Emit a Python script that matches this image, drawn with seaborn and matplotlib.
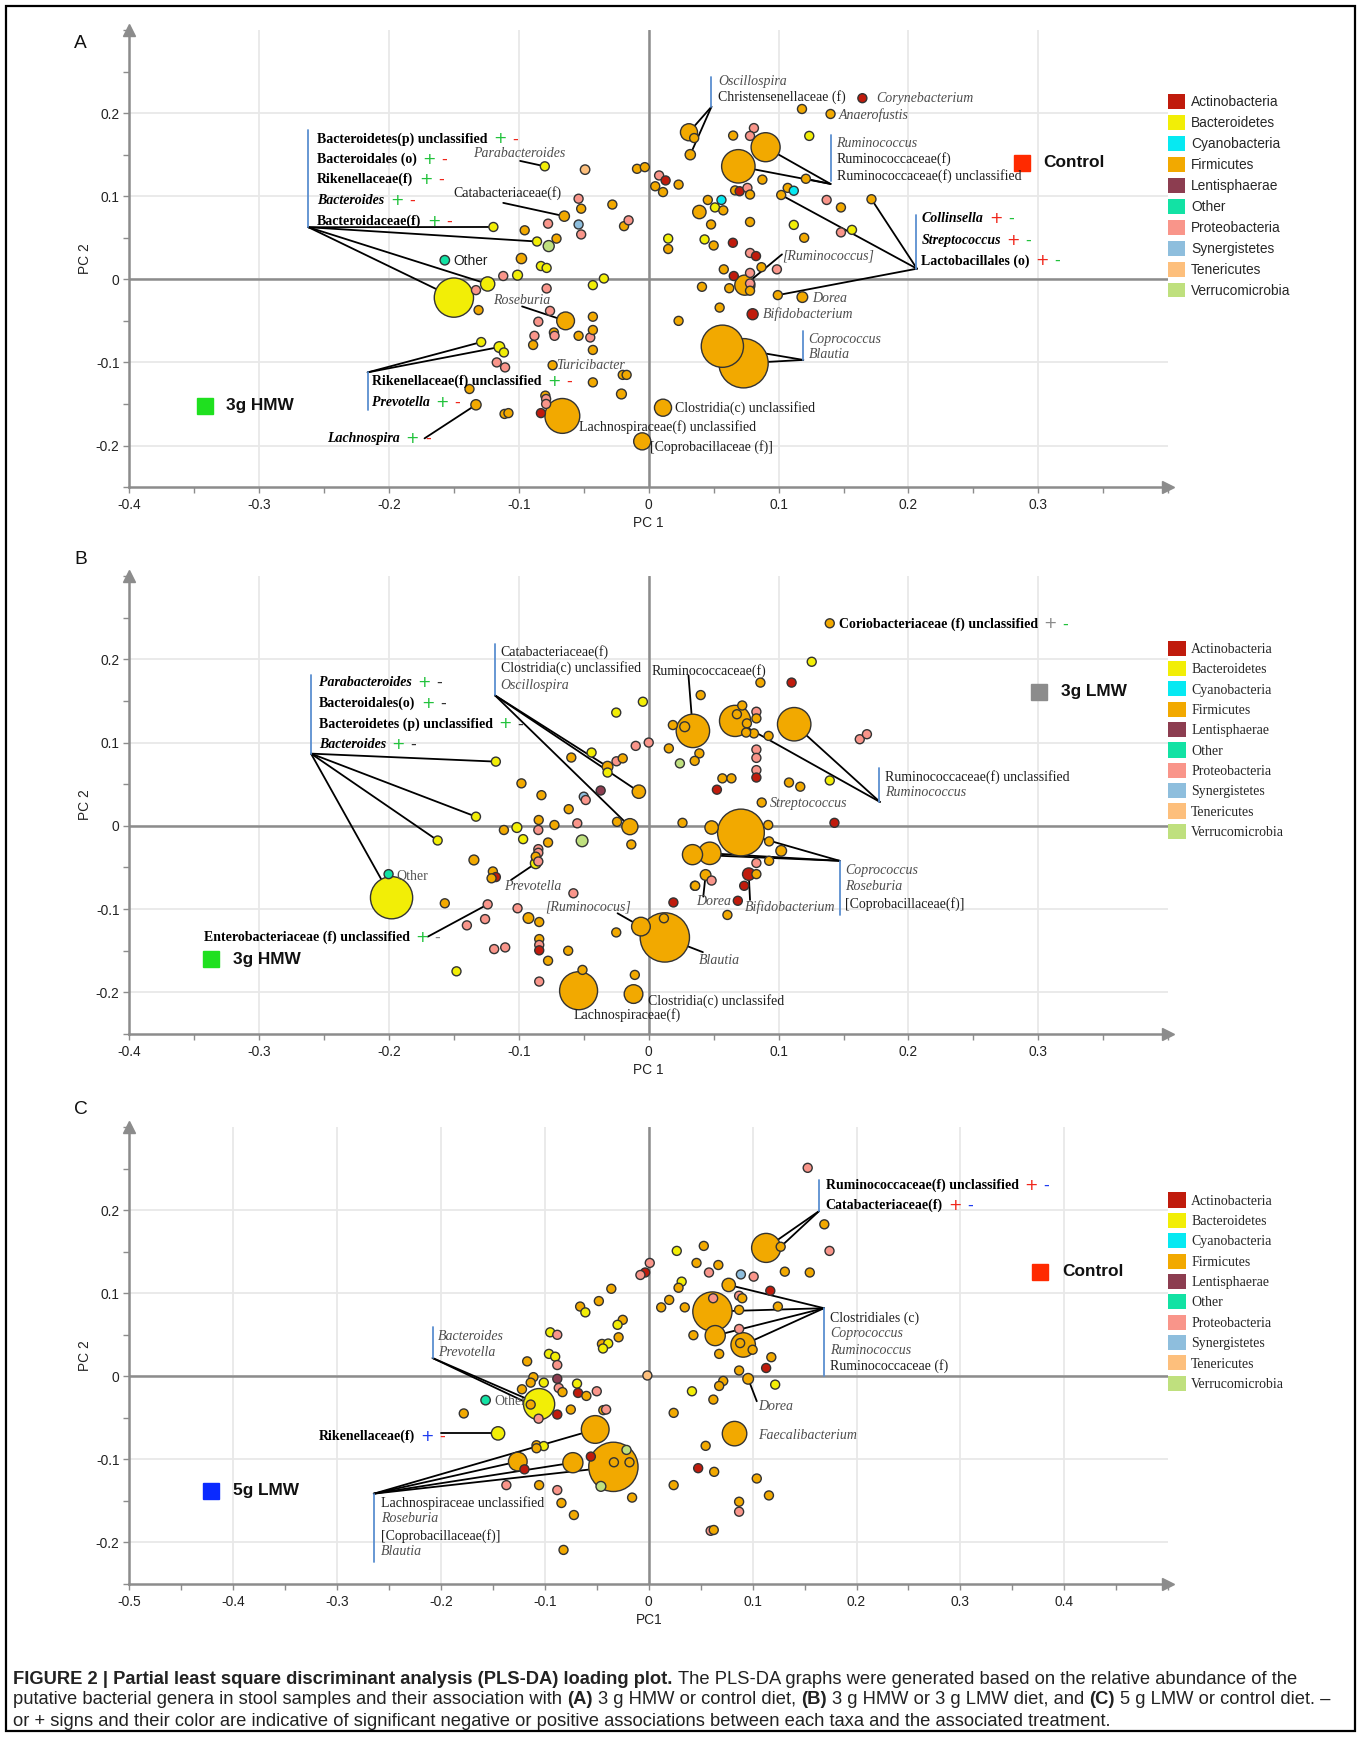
import numpy as np
import pandas as pd
import matplotlib
matplotlib.use('Agg')
import matplotlib.pyplot as plt
from matplotlib import font_manager
from matplotlib.patches import Patch, Rectangle
from matplotlib.ticker import MultipleLocator, FixedLocator, FuncFormatter
import seaborn as sns

sns.set_theme(style='white')

_installed = {f.name for f in font_manager.fontManager.ttflist}
NARROW = 'Liberation Sans Narrow' in _installed
SANS = ['Liberation Sans Narrow', 'Liberation Sans', 'DejaVu Sans'] if NARROW else ['Liberation Sans', 'DejaVu Sans']
SQ = 1.0 if NARROW else 0.86      # sans text is condensed in the reference
SERIF = ['Liberation Serif', 'DejaVu Serif']
plt.rcParams['font.family'] = SANS

# ---------------------------------------------------------------- data
PHYLA = ['Actinobacteria', 'Bacteroidetes', 'Cyanobacteria', 'Firmicutes', 'Lentisphaerae',
         'Other', 'Proteobacteria', 'Synergistetes', 'Tenericutes', 'Verrucomicrobia']
PHYLA_CODE = dict(A='Actinobacteria', B='Bacteroidetes', C='Cyanobacteria', F='Firmicutes',
                  L='Lentisphaerae', O='Other', P='Proteobacteria', S='Synergistetes',
                  T='Tenericutes', V='Verrucomicrobia')
PHYLA_COLORS = ['#c01b0c', '#f2ee06', '#06e9f2', '#f2a900', '#8c3d50',
                '#12e2a4', '#f9958a', '#8ebedd', '#fdbf7c', '#bfe07e']

# panel A : 3 g HMW vs control
pc1_a = [
    -0.080, -0.049, -0.009, -0.003, 0.008, 0.013, 0.005, 0.011, 0.023, -0.054,
    -0.052, -0.028, -0.065, -0.0775, -0.054, -0.052, -0.019, -0.0155, -0.1196, -0.0955,
    -0.086, -0.071, -0.077, 0.015, 0.015, -0.157, -0.098, -0.083, -0.0786, -0.112,
    -0.101, -0.124, -0.0345, -0.043, -0.150, -0.133, -0.131, -0.0786, -0.064, -0.076,
    -0.085, -0.073, -0.0725, -0.088, -0.089, -0.054, -0.045, -0.043, -0.043, -0.043,
    0.023, -0.129, -0.115, -0.1115, -0.117, -0.1106, -0.074, -0.020, -0.017, -0.043,
    -0.138, -0.133, -0.0796, -0.079, -0.079, -0.021, -0.111, -0.108, -0.083, -0.0665,
    0.011, -0.005, 0.031, 0.035, 0.032, 0.1645, 0.118, 0.140, 0.081, 0.065,
    0.078, 0.1236, 0.090, 0.069, 0.121, 0.0875, 0.0665, 0.070, 0.076, 0.078,
    0.107, 0.1117, 0.102, 0.0455, 0.056, 0.051, 0.0574, 0.039, 0.137, 0.148,
    0.1715, 0.048, 0.078, 0.1117, 0.043, 0.050, 0.0648, 0.1197, 0.148, 0.1565,
    0.078, 0.0826, 0.0578, 0.0868, 0.0987, 0.0655, 0.078, 0.074, 0.078, 0.078,
    0.041, 0.062, 0.0994, 0.1183, 0.0546, 0.080, 0.0567, 0.073]
pc2_a = [
    0.136, 0.132, 0.133, 0.135, 0.125, 0.119, 0.112, 0.105, 0.114, 0.097,
    0.085, 0.090, 0.076, 0.067, 0.066, 0.054, 0.064, 0.071, 0.063, 0.059,
    0.0455, 0.049, 0.040, 0.049, 0.0365, 0.023, 0.025, 0.016, 0.0137, 0.004,
    0.005, -0.0056, 0.001, -0.007, -0.022, -0.013, -0.037, -0.011, -0.050, -0.038,
    -0.051, -0.064, -0.068, -0.068, -0.079, -0.068, -0.070, -0.045, -0.061, -0.085,
    -0.050, -0.0755, -0.0815, -0.088, -0.100, -0.106, -0.1034, -0.115, -0.115, -0.124,
    -0.132, -0.151, -0.140, -0.144, -0.150, -0.138, -0.162, -0.161, -0.161, -0.1644,
    -0.1545, -0.195, 0.177, 0.170, 0.150, 0.218, 0.205, 0.199, 0.182, 0.173,
    0.1726, 0.1726, 0.159, 0.136, 0.121, 0.120, 0.107, 0.106, 0.110, 0.102,
    0.110, 0.1066, 0.1015, 0.0955, 0.0955, 0.0865, 0.083, 0.081, 0.0955, 0.0865,
    0.0964, 0.066, 0.069, 0.0655, 0.048, 0.0407, 0.044, 0.050, 0.0565, 0.0595,
    0.0317, 0.028, 0.012, 0.0146, 0.012, 0.004, 0.0077, -0.007, -0.005, -0.0137,
    -0.009, -0.0107, -0.019, -0.0214, -0.034, -0.042, -0.0805, -0.101]
phylum_a = ("BTFFPAFFFP FFFPSPFPBF BFVBFOFBBP BBBBBPFPFP PFPPFFPFFF FBBBPPFFFF "
            "FFFPPFFFAF FFFFFAFFPF PBFFFFFAPF FCFFCBFFPF FFFBBFAFPB PAFFPAPFPF FFFFFAFF")
abund_a = [
    1, 1.1, 1, 1, 1, 1, 1, 1, 1, 1,
    1, 1, 1.3, 1, 1, 1, 1, 1, 1, 1,
    1, 1, 1.5, 1, 1, 1.1, 1.3, 1, 0.9, 1,
    1.2, 2.5, 1, 1, 19, 1, 1, 1, 3.9, 1,
    1, 1, 1, 1, 1, 1, 1, 1, 1, 1,
    1, 1, 1.4, 1, 1, 1, 1, 1, 1, 1,
    1, 1.3, 1, 1, 1, 1.2, 1, 1, 1, 15,
    3.6, 3.6, 3.6, 1, 1.3, 0.8, 1, 1, 1, 1,
    1, 1, 10.4, 13.8, 1, 1, 1, 1, 1, 1,
    1, 1, 1, 1, 1, 1, 1, 2.2, 1, 1,
    1, 1, 1, 1, 1, 1, 1, 1, 1, 1,
    1, 1, 1, 1, 1, 1, 1, 5.0, 1, 1,
    1, 1, 1, 1.4, 1, 1.5, 22, 30]

# panel B : 3 g HMW vs 3 g LMW
pc1_b = [
    -0.1177, -0.133, -0.1625, -0.198, -0.2003, -0.0045, -0.025, -0.044, -0.0596, -0.0317,
    -0.0317, -0.0248, -0.020, -0.010, 0.000, -0.098, -0.0826, -0.050, -0.0485, -0.037,
    -0.0616, -0.0076, -0.0145, -0.0244, -0.055, -0.0726, -0.0847, -0.085, -0.1015, -0.1115,
    -0.0967, -0.0775, -0.0513, -0.0134, -0.085, -0.085, -0.087, -0.087, -0.085, -0.1346,
    -0.120, -0.1177, -0.121, -0.157, -0.124, -0.126, -0.140, -0.101, -0.0926, -0.0843,
    -0.058, -0.119, -0.1105, -0.148, -0.0843, -0.0843, -0.0843, -0.0775, -0.062, -0.051,
    -0.0843, -0.054, -0.0117, -0.0107, -0.025, -0.006, 0.0124, 0.0117, 0.019, 0.0355,
    0.026, 0.024, 0.0155, 0.0186, 0.040, 0.1394, 0.1255, 0.086, 0.110, 0.034,
    0.0277, 0.0665, 0.0679, 0.072, 0.0756, 0.0829, 0.0829, 0.081, 0.0923, 0.075,
    0.112, 0.1625, 0.168, 0.039, 0.0354, 0.0829, 0.0829, 0.0829, 0.0829, 0.0567,
    0.0637, 0.0525, 0.108, 0.1167, 0.1394, 0.087, 0.0484, 0.071, 0.092, 0.143,
    0.0927, 0.102, 0.0337, 0.047, 0.0829, 0.0927, 0.0438, 0.0484, 0.0358, 0.077,
    0.0829, 0.0735, 0.0686, 0.0606]
pc2_b = [
    0.0771, 0.011, -0.0176, -0.0863, -0.058, 0.149, 0.136, 0.088, 0.082, 0.071,
    0.064, 0.0775, 0.081, 0.096, 0.100, 0.051, 0.0368, 0.035, 0.031, 0.0424,
    0.020, 0.041, -0.001, 0.0048, 0.003, 0.001, 0.007, -0.005, -0.002, -0.005,
    -0.016, -0.020, -0.018, -0.0224, -0.028, -0.0324, -0.037, -0.045, -0.0428, -0.041,
    -0.0548, -0.0615, -0.063, -0.093, -0.0943, -0.112, -0.1195, -0.099, -0.1107, -0.1155,
    -0.081, -0.148, -0.146, -0.1747, -0.136, -0.143, -0.1495, -0.162, -0.150, -0.173,
    -0.187, -0.198, -0.202, -0.179, -0.128, -0.121, -0.134, -0.111, -0.092, -0.072,
    0.0036, 0.075, 0.093, 0.121, 0.157, 0.2432, 0.197, 0.172, 0.172, 0.114,
    0.119, 0.126, 0.134, 0.1445, 0.123, 0.137, 0.129, 0.111, 0.108, 0.112,
    0.122, 0.104, 0.110, 0.087, 0.078, 0.0916, 0.0816, 0.0669, 0.058, 0.057,
    0.057, 0.0434, 0.052, 0.047, 0.0545, 0.028, -0.002, -0.008, 0.001, 0.0036,
    -0.0187, -0.030, -0.0346, -0.033, -0.0446, -0.042, -0.059, -0.0657, -0.072, -0.058,
    -0.058, -0.072, -0.090, -0.107]
phylum_b = ("BBBBOBBBFF BPFPPFFSPL FFFFPFFPBF BFVFPPFBPF FAFFPPPPFF PPPBFPAFFF "
            "PFFFFFFFAF FVFFFFBFAF FFFFFPFFFF FPPFFPPPAF FAFFBFFFFA FFFFPFFPFA FAAF")
abund_b = [
    1, 1, 1, 22, 1, 1, 1, 1, 1, 1.4,
    1, 1, 1, 1, 1, 1, 1, 1, 1, 1,
    1, 2.2, 3.2, 1, 1, 1, 1, 1, 1.2, 1,
    1, 1, 1.7, 1, 1, 1, 1, 1.4, 1, 1.2,
    1, 1, 1, 1, 1, 1, 1, 1, 1.4, 1,
    1, 1, 1, 1, 1, 1, 1, 1, 1, 1,
    1, 17.8, 4.3, 1, 1, 4.3, 31, 1, 1, 1,
    1, 1, 1, 1, 1, 0.8, 1, 1, 1, 13.8,
    1.2, 12, 1, 1, 1, 1, 1, 1, 1, 1,
    13.8, 1, 1, 1, 1, 1, 1, 1, 1, 1,
    1, 1, 1, 1, 1, 1, 2.2, 27, 1, 1,
    1, 1.4, 5.0, 6.2, 1, 1, 1.4, 1, 1, 1.9,
    1, 1, 1, 1]

# panel C : 5 g LMW vs control
pc1_c = [
    0.027, 0.046, 0.001, -0.0034, -0.008, 0.0317, 0.0287, -0.036, 0.0197, 0.012,
    0.0347, -0.048, -0.066, -0.061, -0.025, -0.030, -0.029, -0.045, -0.039, -0.044,
    0.043, -0.0948, -0.088, -0.096, -0.090, -0.088, -0.117, -0.111, -0.1136, -0.101,
    -0.088, -0.0866, -0.083, -0.122, -0.069, -0.068, -0.060, -0.050, -0.0013, 0.0416,
    -0.157, -0.1136, -0.1055, -0.106, -0.088, -0.075, -0.178, -0.0437, -0.041, 0.024,
    -0.145, -0.0515, -0.108, -0.101, -0.108, -0.126, -0.1196, -0.073, -0.034, -0.0214,
    -0.0335, -0.0185, -0.046, -0.0557, -0.137, -0.1055, -0.088, -0.084, -0.072, -0.016,
    0.024, 0.0476, -0.082, 0.153, 0.169, 0.174, 0.113, 0.127, 0.053, 0.058,
    0.067, 0.0887, 0.101, 0.131, 0.155, 0.077, 0.117, 0.087, 0.090, 0.0613,
    0.062, 0.087, 0.1243, 0.087, 0.064, 0.0909, 0.088, 0.0678, 0.100, 0.118,
    0.113, 0.087, 0.0957, 0.0717, 0.0678, 0.1217, 0.0622, 0.0826, 0.0548, 0.063,
    0.104, 0.1157, 0.087, 0.087, 0.0596, 0.0626]
pc2_c = [
    0.151, 0.1365, 0.1365, 0.125, 0.122, 0.114, 0.1066, 0.1054, 0.092, 0.083,
    0.083, 0.0906, 0.084, 0.077, 0.068, 0.062, 0.047, 0.039, 0.0395, 0.0335,
    0.0495, 0.053, 0.050, 0.027, 0.0236, 0.0136, 0.018, -0.001, -0.0076, -0.0076,
    -0.003, -0.014, -0.019, -0.0156, -0.0088, -0.020, -0.0236, -0.018, 0.001, -0.018,
    -0.0287, -0.034, -0.0335, -0.051, -0.046, -0.040, -0.0447, -0.0407, -0.040, -0.044,
    -0.0687, -0.064, -0.083, -0.084, -0.0866, -0.1026, -0.112, -0.104, -0.109, -0.0886,
    -0.1035, -0.1035, -0.1325, -0.0966, -0.131, -0.131, -0.137, -0.1525, -0.167, -0.146,
    -0.131, -0.1106, -0.209, 0.251, 0.183, 0.151, 0.1546, 0.156, 0.157, 0.125,
    0.134, 0.1227, 0.120, 0.126, 0.125, 0.110, 0.103, 0.097, 0.094, 0.078,
    0.094, 0.080, 0.084, 0.057, 0.049, 0.0378, 0.040, 0.027, 0.032, 0.023,
    0.010, 0.007, -0.003, -0.0056, -0.0116, -0.010, -0.028, -0.069, -0.0837, -0.115,
    -0.123, -0.1434, -0.151, -0.163, -0.186, -0.185]
phylum_c = ("BFPAPBFFFF FFFBFBFFBB FBPBBPFFFB LPFFBAFPTB OFBPAFFFPF BFFBFFAFFV "
            "FFVAPFPFFF FAFPFPFFFP FSPFFFAPFF PFFPFFFFFF AFFFFBFFFF FFFPPF")
abund_c = [
    1, 1, 1, 1, 1, 1, 1, 1, 1, 1,
    1, 1, 1, 1, 1, 1, 1, 1, 1, 1,
    1, 1, 1, 1, 1, 1, 1, 1, 1, 1,
    1, 1, 1, 1, 1, 1, 1, 1, 1, 1,
    1.1, 1, 12, 1, 1, 1, 1, 1, 1, 1,
    2.2, 9.5, 1, 1, 1, 4.3, 1, 5.0, 31, 1,
    1, 1, 1.2, 1, 1, 1, 1, 1, 1, 1,
    1, 1, 1, 1, 1, 1, 10.4, 1, 1, 1,
    1, 1, 1, 1, 1, 2.2, 1, 1, 1, 19,
    1, 1, 1, 1, 5.0, 7.4, 1, 1, 1, 1,
    1, 1, 1.4, 1, 1, 1, 1, 7.4, 1, 1,
    1, 1, 1, 1, 1, 1]

# ---------------------------------------------------------------- styles
GREEN, RED, BLUE, GREY = '#22c23c', '#f0261b', '#1f3cf0', '#8a8a8a'
GR = [('+', GREEN), ('-', RED)]
RG = [('+', RED), ('-', GREEN)]
RB = [('+', RED), ('-', BLUE)]
GK = [('+', GREEN), ('-', '#333333')]
AXIS_GREY = '#8c8c8c'
TICK_FS = 11.5 * SQ
LEG_FS = 11.5 * SQ
LAB_FS = 10.0
STYLE = {'b': dict(weight='bold', color='black'),
         'bi': dict(weight='bold', style='italic', color='black'),
         'i': dict(style='italic', color='#4d4d4d'),
         'r': dict(color='#1e1e1e')}


def panel_frame(pc1, pc2, codes, abund):
    codes = codes.replace(' ', '')
    assert len(pc1) == len(pc2) == len(codes) == len(abund), (len(pc1), len(pc2), len(codes), len(abund))
    df = pd.DataFrame({'pc1': pc1, 'pc2': pc2,
                       'phylum': [PHYLA_CODE[c] for c in codes], 'abund': abund})
    # big bubbles underneath, small ones on top
    return df.sort_values('abund', ascending=False, kind='stable')


def setup_axes(ax, xlim, xticks, xlabel):
    ax.set_xlim(*xlim)
    ax.set_ylim(-0.25, 0.3)
    ax.xaxis.set_major_locator(FixedLocator(xticks))
    ax.xaxis.set_minor_locator(MultipleLocator(0.05))
    ax.yaxis.set_major_locator(FixedLocator([-0.2, -0.1, 0, 0.1, 0.2]))
    ax.yaxis.set_minor_locator(MultipleLocator(0.05))
    fmt = FuncFormatter(lambda v, p: '0' if abs(v) < 1e-9 else f'{v:.1f}')
    ax.xaxis.set_major_formatter(fmt)
    ax.yaxis.set_major_formatter(fmt)
    ax.tick_params(which='both', direction='out', length=4, width=1, color=AXIS_GREY,
                   labelsize=TICK_FS, labelcolor='#222222', bottom=True, left=True)
    ax.tick_params(axis='x', pad=4)
    ax.tick_params(axis='y', pad=3)
    ax.grid(True, which='major', color='#e8e8e8', lw=1.3, zorder=0)
    ax.set_axisbelow(True)
    for s in ('top', 'right'):
        ax.spines[s].set_visible(False)
    for s in ('left', 'bottom'):
        ax.spines[s].set_color(AXIS_GREY)
        ax.spines[s].set_linewidth(1.8)
    ax.axhline(0, color=AXIS_GREY, lw=1.8, zorder=1)
    ax.axvline(0, color=AXIS_GREY, lw=1.8, zorder=1)
    ax.plot([0], [1], marker='^', ms=9, color=AXIS_GREY, transform=ax.transAxes, clip_on=False)
    ax.plot([1], [0], marker='>', ms=9, color=AXIS_GREY, transform=ax.transAxes, clip_on=False)
    ax.set_xlabel(xlabel, fontsize=TICK_FS, color='#222222', labelpad=3)
    ax.set_ylabel('PC 2', fontsize=TICK_FS, color='#222222', labelpad=3)


def draw_bubbles(ax, df):
    sns.scatterplot(data=df, x='pc1', y='pc2', hue='phylum', hue_order=PHYLA,
                    palette=dict(zip(PHYLA, PHYLA_COLORS)), size='abund',
                    sizes=(42, 42 * 30), size_norm=(1, 30), edgecolor='#333333',
                    linewidth=1.0, legend=False, ax=ax, zorder=3)


def phylum_legend(ax, serif, top):
    handles = [Patch(facecolor=c, edgecolor='none') for c in PHYLA_COLORS]
    if serif:
        prop, spacing = dict(family=SERIF, size=LAB_FS), 0.37
    else:
        prop, spacing = dict(family=SANS, size=LEG_FS), 0.43
    ax.legend(handles, PHYLA, loc='upper left', bbox_to_anchor=(1.0, top), frameon=False,
              prop=prop, handlelength=1.25, handleheight=1.3, handletextpad=0.4,
              labelspacing=spacing, borderaxespad=0, borderpad=0)


def label(ax, x, y, text, kind='r', signs=(), ha='left', color=None, family=None, size=LAB_FS):
    kw = dict(family=family or SERIF, fontsize=size, va='center', ha=ha, zorder=6)
    kw.update(STYLE[kind])
    if color:
        kw['color'] = color
    prev = ax.text(x, y, text, **kw)
    for ch, col in signs:
        prev = ax.annotate(ch, xy=(1, 0.5), xycoords=prev, xytext=(4, 0),
                           textcoords='offset points', va='center', ha='left', color=col,
                           fontsize=size + 1.5, family=['DejaVu Sans'], zorder=6)


def leaders(ax, anchor, idx, pc1, pc2):
    for i in idx:
        ax.plot([anchor[0], pc1[i]], [anchor[1], pc2[i]], color='black', lw=1.3, zorder=2.5)


def block(ax, xb, ytop, ybot, xt, rows, anchor, idx, pc1, pc2):
    ax.plot([xb, xb], [ytop, ybot], color='#5b8fd0', lw=1.3, zorder=4)
    for y, text, kind, signs in rows:
        label(ax, xt, y, text, kind, signs)
    leaders(ax, anchor, idx, pc1, pc2)


def treatment_key(ax, fx, fy, text, color):
    ax.plot([fx], [fy], marker='s', ms=12, color=color, transform=ax.transAxes, clip_on=False)
    ax.text(fx + 0.021, fy, text, transform=ax.transAxes, fontsize=14.4 * SQ, weight='bold',
            va='center', ha='left', color='#111111', family=SANS)


# ---------------------------------------------------------------- figure
fig = plt.figure(figsize=(13.6, 17.37), dpi=100)
base = fig.add_axes([0, 0, 1, 1])
base.axis('off')
base.set_xlim(0, 1)
base.set_ylim(0, 1)
base.add_patch(Rectangle((0.0044, 0.0035), 0.9920, 0.9931, fill=False, lw=1.6, ec='black'))

ax_a = fig.add_axes([0.095, 0.7196, 0.764, 0.2631])
ax_b = fig.add_axes([0.095, 0.4047, 0.764, 0.2637])
ax_c = fig.add_axes([0.095, 0.0881, 0.764, 0.2630])

for letter, yy in (('A', 44), ('B', 560), ('C', 1110)):
    base.text(74 / 1360, 1 - yy / 1737, letter, fontsize=16 * SQ, va='center', ha='left',
              color='#111111', family=SANS)

# ---- panel A
setup_axes(ax_a, (-0.4, 0.4), [-0.4, -0.3, -0.2, -0.1, 0, 0.1, 0.2, 0.3], 'PC 1')
draw_bubbles(ax_a, panel_frame(pc1_a, pc2_a, phylum_a, abund_a))
phylum_legend(ax_a, serif=False, top=0.861)
block(ax_a, -0.262, 0.180, 0.0627, -0.2553,
      [(0.169, 'Bacteroidetes(p) unclassified', 'b', GR),
       (0.144, 'Bacteroidales (o)', 'b', GR),
       (0.120, 'Rikenellaceae(f)', 'b', GR),
       (0.095, 'Bacteroides', 'bi', GR),
       (0.070, 'Bacteroidaceae(f)', 'b', GR)],
      (-0.262, 0.0627), [18, 20, 31, 34], pc1_a, pc2_a)
block(ax_a, -0.2164, -0.112, -0.1567, -0.213,
      [(-0.1227, 'Rikenellaceae(f) unclassified', 'b', GR),
       (-0.148, 'Prevotella', 'bi', GR)],
      (-0.2164, -0.112), [51, 52], pc1_a, pc2_a)
label(ax_a, -0.2474, -0.1914, 'Lachnospira', 'bi', GR)
leaders(ax_a, (-0.1726, -0.1914), [61], pc1_a, pc2_a)
label(ax_a, -0.100, 0.151, 'Parabacteroides', 'i', ha='center')
leaders(ax_a, (-0.099, 0.1425), [0], pc1_a, pc2_a)
label(ax_a, -0.109, 0.104, 'Catabacteriaceae(f)', 'r', ha='center')
leaders(ax_a, (-0.112, 0.092), [12], pc1_a, pc2_a)
label(ax_a, -0.1505, 0.022, 'Other', 'r', family=SANS, size=TICK_FS)
label(ax_a, -0.098, -0.025, 'Roseburia', 'i', ha='center')
leaders(ax_a, (-0.0975, -0.0326), [38], pc1_a, pc2_a)
label(ax_a, -0.0717, -0.104, 'Turicibacter', 'i')
label(ax_a, -0.0534, -0.178, 'Lachnospiraceae(f) unclassified', 'r')
label(ax_a, 0.0203, -0.155, 'Clostridia(c) unclassified', 'r')
label(ax_a, 0.001, -0.202, '[Coprobacillaceae (f)]', 'r')
block(ax_a, 0.0483, 0.244, 0.2077, 0.0532,
      [(0.2377, 'Oscillospira', 'i', ()),
       (0.219, 'Christensenellaceae (f)', 'r', ())],
      (0.0483, 0.2077), [72, 74], pc1_a, pc2_a)
label(ax_a, 0.175, 0.218, 'Corynebacterium', 'i')
label(ax_a, 0.1463, 0.198, 'Anaerofustis', 'i')
block(ax_a, 0.140, 0.1734, 0.1178, 0.1446,
      [(0.1636, 'Ruminococcus', 'i', ()),
       (0.145, 'Ruminococcaceae(f)', 'r', ()),
       (0.124, 'Ruminococcaceae(f) unclassified', 'r', ())],
      (0.140, 0.1148), [82, 83, 84], pc1_a, pc2_a)
block(ax_a, 0.2058, 0.078, 0.012, 0.210,
      [(0.073, 'Collinsella', 'bi', RG),
       (0.047, 'Streptococcus', 'bi', RG),
       (0.0223, 'Lactobacillales (o)', 'b', RG)],
      (0.2065, 0.0128), [92, 100, 122], pc1_a, pc2_a)
label(ax_a, 0.1026, 0.028, '[Ruminococcus]', 'i')
leaders(ax_a, (0.1026, 0.030), [117], pc1_a, pc2_a)
label(ax_a, 0.126, -0.0227, 'Dorea', 'i')
label(ax_a, 0.088, -0.042, 'Bifidobacterium', 'i')
block(ax_a, 0.119, -0.062, -0.097, 0.123,
      [(-0.072, 'Coprococcus', 'i', ()),
       (-0.091, 'Blautia', 'i', ())],
      (0.119, -0.097), [126, 127], pc1_a, pc2_a)
treatment_key(ax_a, 0.0725, 0.1775, '3g HMW', '#1fe01f')
treatment_key(ax_a, 0.859, 0.7096, 'Control', '#ff2a00')

# ---- panel B
setup_axes(ax_b, (-0.4, 0.4), [-0.4, -0.3, -0.2, -0.1, 0, 0.1, 0.2, 0.3], 'PC 1')
draw_bubbles(ax_b, panel_frame(pc1_b, pc2_b, phylum_b, abund_b))
phylum_legend(ax_b, serif=True, top=0.859)
block(ax_b, -0.260, 0.1815, 0.0867, -0.254,
      [(0.172, 'Parabacteroides', 'bi', GK),
       (0.1467, 'Bacteroidales(o)', 'b', GK),
       (0.1223, 'Bacteroidetes (p) unclassified', 'b', GK),
       (0.0975, 'Bacteroides', 'bi', GK)],
      (-0.260, 0.0867), [0, 1, 2, 3], pc1_b, pc2_b)
block(ax_b, -0.1184, 0.2186, 0.1567, -0.114,
      [(0.2086, 'Catabacteriaceae(f)', 'r', ()),
       (0.190, 'Clostridia(c) unclassified', 'r', ()),
       (0.169, 'Oscillospira', 'i', ())],
      (-0.1184, 0.1567), [9, 21, 22], pc1_b, pc2_b)
label(ax_b, -0.194, -0.061, 'Other', 'r', color='#555555')
label(ax_b, -0.089, -0.073, 'Prevotella', 'i', ha='center')
leaders(ax_b, (-0.106, -0.065), [37], pc1_b, pc2_b)
label(ax_b, -0.3425, -0.134, 'Enterobacteriaceae (f) unclassified', 'b', [('+', GREEN), ('-', GREY)])
leaders(ax_b, (-0.170, -0.133), [44], pc1_b, pc2_b)
label(ax_b, -0.0465, -0.097, '[Ruminococus]', 'i', ha='center')
leaders(ax_b, (-0.024, -0.105), [65], pc1_b, pc2_b)
label(ax_b, -0.0165, -0.227, 'Lachnospiraceae(f)', 'r', ha='center')
label(ax_b, -0.0003, -0.210, 'Clostridia(c) unclassifed', 'r')
label(ax_b, 0.0024, 0.1855, 'Ruminococcaceae(f)', 'r')
leaders(ax_b, (0.0306, 0.1807), [79], pc1_b, pc2_b)
label(ax_b, 0.1464, 0.2424, 'Coriobacteriaceae (f) unclassified', 'b', [('+', GREY), ('-', GREEN)])
block(ax_b, 0.177, 0.0693, 0.0287, 0.1817,
      [(0.059, 'Ruminococcaceae(f) unclassified', 'r', ()),
       (0.040, 'Ruminococcus', 'i', ())],
      (0.178, 0.0287), [81, 90], pc1_b, pc2_b)
label(ax_b, 0.0934, 0.027, 'Streptococcus', 'i')
block(ax_b, 0.147, -0.042, -0.1075, 0.1513,
      [(-0.054, 'Coprococcus', 'i', ()),
       (-0.073, 'Roseburia', 'i', ()),
       (-0.0935, '[Coprobacillaceae(f)]', 'r', ())],
      (0.147, -0.042), [107, 112, 113], pc1_b, pc2_b)
label(ax_b, 0.050, -0.091, 'Dorea', 'i', ha='center')
leaders(ax_b, (0.042, -0.085), [116], pc1_b, pc2_b)
label(ax_b, 0.074, -0.097, 'Bifidobacterium', 'i')
leaders(ax_b, (0.078, -0.089), [119], pc1_b, pc2_b)
label(ax_b, 0.039, -0.1616, 'Blautia', 'i')
leaders(ax_b, (0.0417, -0.1517), [66], pc1_b, pc2_b)
treatment_key(ax_b, 0.0788, 0.1636, '3g HMW', '#1fe01f')
treatment_key(ax_b, 0.876, 0.747, '3g LMW', '#8c8c8c')

# ---- panel C
setup_axes(ax_c, (-0.5, 0.5), [-0.5, -0.4, -0.3, -0.2, -0.1, 0, 0.1, 0.2, 0.3, 0.4], 'PC1')
draw_bubbles(ax_c, panel_frame(pc1_c, pc2_c, phylum_c, abund_c))
phylum_legend(ax_c, serif=True, top=0.857)
block(ax_c, -0.208, 0.059, 0.022, -0.203,
      [(0.048, 'Bacteroides', 'i', ()),
       (0.029, 'Prevotella', 'i', ())],
      (-0.208, 0.022), [41, 42], pc1_c, pc2_c)
label(ax_c, -0.149, -0.030, 'Other', 'r', color='#555555')
label(ax_c, -0.318, -0.0727, 'Rikenellaceae(f)', 'b', [('+', BLUE), ('-', RED)])
leaders(ax_c, (-0.200, -0.0687), [50], pc1_c, pc2_c)
block(ax_c, -0.2646, -0.1413, -0.224, -0.2577,
      [(-0.1525, 'Lachnospiraceae unclassified', 'r', ()),
       (-0.1717, 'Roseburia', 'i', ()),
       (-0.1924, '[Coprobacillaceae(f)]', 'r', ()),
       (-0.2108, 'Blautia', 'i', ())],
      (-0.2646, -0.1413), [51, 55, 57, 58], pc1_c, pc2_c)
block(ax_c, 0.164, 0.236, 0.1996, 0.1704,
      [(0.230, 'Ruminococcaceae(f) unclassified', 'b', RB),
       (0.2056, 'Catabacteriaceae(f)', 'b', RB)],
      (0.164, 0.199), [76, 77], pc1_c, pc2_c)
block(ax_c, 0.1687, 0.082, 0.0, 0.1743,
      [(0.070, 'Clostridiales (c)', 'r', ()),
       (0.051, 'Coprococcus', 'i', ()),
       (0.031, 'Ruminococcus', 'i', ()),
       (0.0124, 'Ruminococcaceae (f)', 'r', ())],
      (0.1687, 0.082), [85, 89, 94, 95], pc1_c, pc2_c)
label(ax_c, 0.105, -0.0367, 'Dorea', 'i')
leaders(ax_c, (0.104, -0.030), [102], pc1_c, pc2_c)
label(ax_c, 0.105, -0.0713, 'Faecalibacterium', 'i')
treatment_key(ax_c, 0.079, 0.2036, '5g LMW', '#0a2aff')
treatment_key(ax_c, 0.877, 0.6836, 'Control', '#ff2a00')

# ---- caption
CAP_FS = 15.35 * SQ
caption = [
    [('FIGURE 2 | Partial least square discriminant analysis (PLS-DA) loading plot.', True),
     ('The PLS-DA graphs were generated based on the relative abundance of the', False)],
    [('putative bacterial genera in stool samples and their association with', False), ('(A)', True),
     ('3 g HMW or control diet,', False), ('(B)', True), ('3 g HMW or 3 g LMW diet, and', False),
     ('(C)', True), ('5 g LMW or control diet. \u2013', False)],
    [('or + signs and their color are indicative of significant negative or positive '
      'associations between each taxa and the associated treatment.', False)],
]
for line, ypix in zip(caption, (1679, 1700, 1721)):
    prev = None
    for txt, bold in line:
        kw = dict(fontsize=CAP_FS, family=SANS, weight='bold' if bold else 'normal',
                  color='#222222', va='center', ha='left')
        if prev is None:
            prev = base.text(13 / 1360, 1 - ypix / 1737, txt, **kw)
        else:
            prev = base.annotate(txt, xy=(1, 0.5), xycoords=prev, xytext=(0.28 * CAP_FS, 0),
                                 textcoords='offset points', **kw)

fig.savefig('out.png', dpi=100)
